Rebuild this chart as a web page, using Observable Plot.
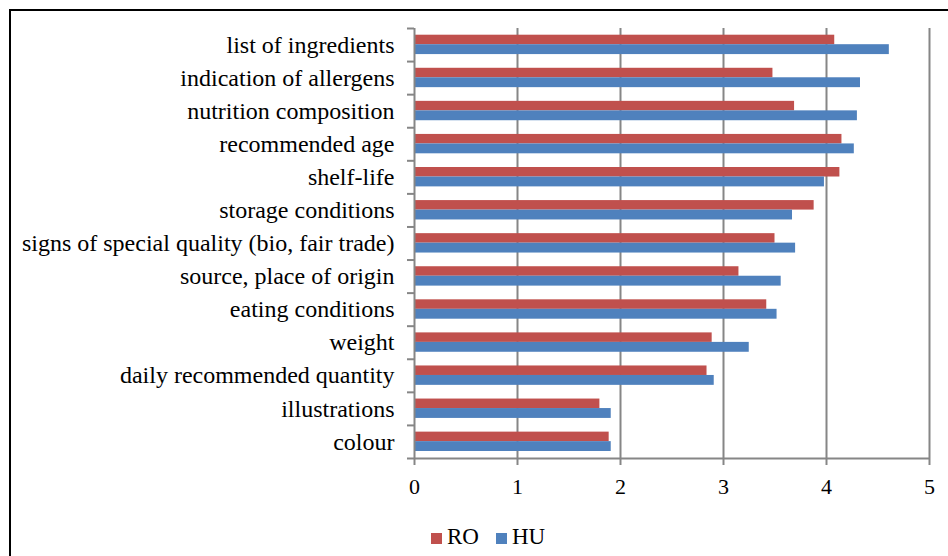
<!DOCTYPE html>
<html>
<head>
<meta charset="utf-8">
<script src="https://cdn.jsdelivr.net/npm/d3@7"></script>
<script src="https://cdn.jsdelivr.net/npm/@observablehq/plot@0.6"></script>
<style>
  html, body { margin: 0; padding: 0; background: #fff; overflow: hidden; width: 948px; height: 556px; }
  #wrap { position: relative; width: 948px; height: 556px; }
  #border { position: absolute; left: 9px; top: 9px; width: 1200px; height: 800px; border-top: 2.5px solid #000; border-left: 2.5px solid #000; }
  #chart { position: absolute; left: 0; top: 0; }
  .sw { position: absolute; width: 11px; height: 11px; top: 533px; }
  .lt { position: absolute; top: 525px; font-family: "Liberation Serif", "Times New Roman", serif; font-size: 23px; line-height: 23px; color: #000; }
</style>
</head>
<body>
<div id="wrap">
  <div id="border"></div>
  <div id="chart"></div>
  <div class="sw" style="left:431px;background:#C0504D"></div>
  <div class="lt" style="left:447px">RO</div>
  <div class="sw" style="left:496px;background:#4F81BD"></div>
  <div class="lt" style="left:512px">HU</div>
</div>
<script>
const categories = [
  "list of ingredients",
  "indication of allergens",
  "nutrition composition",
  "recommended age",
  "shelf-life",
  "storage conditions",
  "signs of special quality (bio, fair trade)",
  "source, place of origin",
  "eating conditions",
  "weight",
  "daily recommended quantity",
  "illustrations",
  "colour"
];
const RO = [4.08, 3.48, 3.69, 4.15, 4.13, 3.88, 3.50, 3.15, 3.42, 2.89, 2.84, 1.80, 1.89];
const HU = [4.61, 4.33, 4.30, 4.27, 3.98, 3.67, 3.70, 3.56, 3.52, 3.25, 2.91, 1.91, 1.91];
const xTicks = [0, 1, 2, 3, 4, 5];

const data = categories.map((c, i) => ({cat: c, RO: RO[i], HU: HU[i]}));

const W = 948, H = 556, mL = 414, mR = 19, mT = 28, mB = 98;
const bw = (H - mT - mB) / categories.length;
const pxPerUnit = (W - mL - mR) / 5;
const grid = "#868686";

const chart = Plot.plot({
  width: W,
  height: H,
  marginLeft: mL,
  marginRight: mR,
  marginTop: mT,
  marginBottom: mB,
  style: {fontFamily: "'Liberation Serif', 'Times New Roman', serif", fontSize: "24px", color: "#000", background: "transparent"},
  x: {domain: [0, 5], ticks: xTicks},
  y: {domain: categories, padding: 0, round: false},
  marks: [
    Plot.ruleX(xTicks.slice(1), {stroke: grid, strokeWidth: 2}),
    Plot.barX(data, {y: "cat", x: "RO", fill: "#C0504D", insetTop: 6.7, insetBottom: bw - 6.7 - 9.5}),
    Plot.barX(data, {y: "cat", x: "HU", fill: "#4F81BD", insetTop: 16.2, insetBottom: 7}),
    Plot.ruleX([0], {stroke: grid, strokeWidth: 2}),
    Plot.ruleY(categories, {y: d => d, dy: -bw / 2, x1: -7 / pxPerUnit, x2: 0, stroke: grid, strokeWidth: 2}),
    Plot.ruleY([categories[categories.length - 1]], {y: d => d, dy: bw / 2, x1: -7 / pxPerUnit, x2: 5, stroke: grid, strokeWidth: 2}),
    Plot.axisX({ticks: xTicks, tickFormat: d => String(d), tickSize: 7, tickPadding: 13, fontSize: 22, stroke: grid, strokeWidth: 2, fill: "#000", label: null}),
    Plot.axisY({tickSize: 0, tickPadding: 20, fontSize: 24, fill: "#000", label: null})
  ]
});
document.getElementById("chart").appendChild(chart);
</script>
</body>
</html>
